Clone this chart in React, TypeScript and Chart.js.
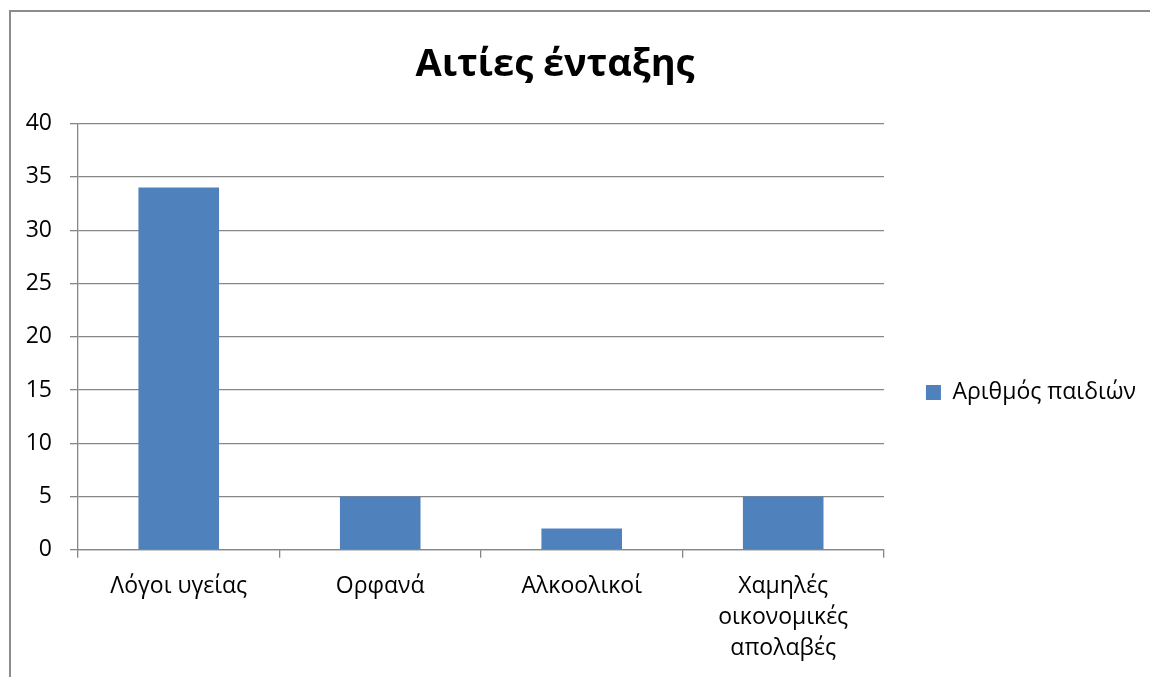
import React, { useEffect, useRef } from "react";
import { Chart, registerables } from "chart.js";

Chart.register(...registerables);

const TITLE = "Αιτίες ένταξης";
const SERIES_NAME = "Αριθμός παιδιών";
const categories: (string | string[])[] = [
  "Λόγοι υγείας",
  "Ορφανά",
  "Αλκοολικοί",
  ["Χαμηλές", "οικονομικές", "απολαβές"],
];
const values = [34, 5, 2, 5];
const yTicks = { min: 0, max: 40, step: 5 };

const FONT = "'Open Sans', 'Noto Sans', 'DejaVu Sans', sans-serif";
const GRID = "#868686";
const BAR = "#4F81BD";

const framePlugin = {
  id: "frame",
  beforeDraw(chart: any) {
    const ctx = chart.ctx;
    ctx.save();
    ctx.fillStyle = "#ffffff";
    ctx.fillRect(0, 0, chart.width, chart.height);
    ctx.strokeStyle = "#8c8c8c";
    ctx.lineWidth = 2;
    ctx.beginPath();
    ctx.moveTo(10, chart.height);
    ctx.lineTo(10, 11);
    ctx.lineTo(chart.width, 11);
    ctx.stroke();
    ctx.restore();
  },
  afterLayout(chart: any) {
    const tb = chart.titleBlock;
    if (tb) {
      tb.left = 10;
      tb.right = 1100;
      tb.width = tb.right - tb.left;
    }
  },
};

export default function App() {
  const ref = useRef<HTMLCanvasElement>(null);
  useEffect(() => {
    if (!ref.current) return;
    const chart = new Chart(ref.current, {
      type: "bar",
      data: {
        labels: categories as any,
        datasets: [
          {
            label: SERIES_NAME,
            data: values,
            backgroundColor: BAR,
            borderWidth: 0,
            barPercentage: 0.4,
            categoryPercentage: 1,
          },
        ],
      },
      options: {
        animation: false,
        responsive: false,
        devicePixelRatio: 1,
        layout: { padding: { left: 0, right: 4, top: 0, bottom: 0 } },
        plugins: {
          title: {
            display: true,
            text: TITLE,
            color: "#000",
            font: { family: FONT, size: 38, weight: "bold", lineHeight: 1.2 },
            padding: { top: 42, bottom: 36 },
          },
          legend: {
            position: "right",
            labels: {
              color: "#000",
              font: { family: FONT, size: 23 },
              boxWidth: 15,
              boxHeight: 15,
              padding: 42,
            },
            title: {
              display: true,
              text: " ",
              color: "rgba(0,0,0,0)",
              font: { size: 12, lineHeight: 1 },
              padding: { top: 96, bottom: 0 },
            },
          },
          tooltip: { enabled: false },
        },
        scales: {
          x: {
            grid: {
              drawOnChartArea: false,
              drawTicks: true,
              tickLength: 8,
              color: GRID,
              lineWidth: 1.3,
            },
            border: { display: true, color: GRID, width: 1.3 },
            ticks: {
              color: "#000",
              font: { family: FONT, size: 23, lineHeight: 1.35 },
              padding: 13,
              maxRotation: 0,
              autoSkip: false,
            },
          },
          y: {
            min: yTicks.min,
            max: yTicks.max,
            grid: {
              color: GRID,
              lineWidth: 1.3,
              tickLength: 8,
            },
            border: { display: true, color: GRID, width: 1.3 },
            ticks: {
              stepSize: yTicks.step,
              color: "#000",
              font: { family: FONT, size: 23 },
              padding: 18,
            },
            afterFit(scale: any) {
              scale.width = 78;
            },
          },
        },
      },
      plugins: [framePlugin],
    });
    return () => chart.destroy();
  }, []);
  return (
    <div style={{ position: "fixed", left: 0, top: 0, width: 1150, height: 677 }}>
      <canvas ref={ref} width={1150} height={677} style={{ width: 1150, height: 677, display: "block" }} />
    </div>
  );
}
